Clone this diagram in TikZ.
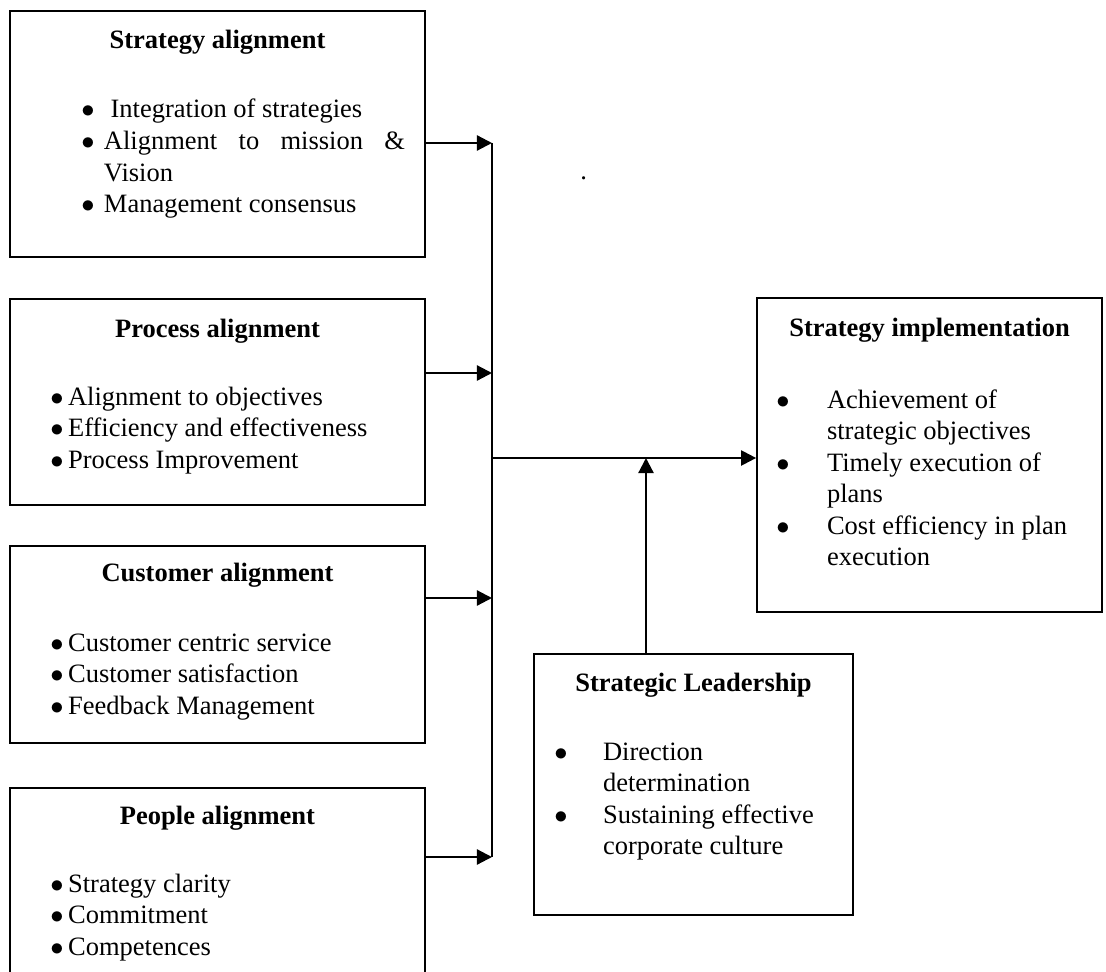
\documentclass[tikz,border=0pt]{standalone}
\usepackage{fontspec}
\setmainfont{Liberation Serif}
\usetikzlibrary{arrows.meta}

\newcommand{\blist}[2]{\begin{tabular}[t]{@{}l@{\hspace{#1}}l@{}}#2\end{tabular}}
\newcommand{\bul}{$\bullet$}

\begin{document}
\begin{tikzpicture}[
        x=0.4528pt, y=-0.4528pt,
        box/.style={rectangle, draw, line width=0.8pt, inner sep=0pt},
        title/.style={font=\fontsize{12}{14.3}\selectfont\bfseries, anchor=base, inner sep=0pt},
        items/.style={font=\fontsize{12}{14.3}\selectfont, anchor=base west, inner sep=0pt},
        arrow/.style={-{Triangle[length=6.8pt,width=6.8pt]}, line width=1pt}
    ]
        \useasboundingbox (0,0) rectangle (1106,972);

        % Alignment boxes
        \node[box, minimum width=187.9pt, minimum height=111.4pt] (sa) at (217.5,134) {};
        \node[box, minimum width=187.9pt, minimum height=93.3pt] (pa) at (217.5,402) {};
        \node[box, minimum width=187.9pt, minimum height=89.2pt] (ca) at (217.5,644.5) {};
        \node[box, minimum width=187.9pt, minimum height=96pt] (pe) at (217.5,894) {};

        % Outcome and leadership boxes
        \node[box, minimum width=156.2pt, minimum height=142.2pt] (si) at (929.5,455) {};
        \node[box, minimum width=144.4pt, minimum height=118.2pt] (sl) at (693.5,784.5) {};

        % Titles
        \node[title] (saT) at (217.5,49) {Strategy alignment};
        \node[title] (paT) at (217.5,337) {Process alignment};
        \node[title] (caT) at (217.5,581) {Customer alignment};
        \node[title] (peT) at (217.5,824) {People alignment};
        \node[title] (siT) at (929.5,336) {Strategy implementation};
        \node[title] (slT) at (693.5,691) {Strategic Leadership};

        % Bullet lists
        \node[items] (saL) at (81,118) {\blist{4.2pt}{\bul & \ Integration of strategies\\
            \bul & \makebox[136.3pt][s]{Alignment to mission \&}\\
                 & Vision\\
            \bul & Management consensus}};
        \node[items] (paL) at (50,405) {\blist{2pt}{\bul & Alignment to objectives\\
            \bul & Efficiency and effectiveness\\
            \bul & Process Improvement}};
        \node[items] (caL) at (50,651) {\blist{2pt}{\bul & Customer centric service\\
            \bul & Customer satisfaction\\
            \bul & Feedback Management}};
        \node[items] (peL) at (50,892) {\blist{2pt}{\bul & Strategy clarity\\
            \bul & Commitment\\
            \bul & Competences}};
        \node[items] (siL) at (776,408) {\blist{16.9pt}{\bul & Achievement of\\
                 & strategic objectives\\
            \bul & Timely execution of\\
                 & plans\\
            \bul & Cost efficiency in plan\\
                 & execution}};
        \node[items] (slL) at (554,760) {\blist{16pt}{\bul & Direction\\
                 & determination\\
            \bul & Sustaining effective\\
                 & corporate culture}};
        \node[items] (dot) at (580,180) {.};

        % Bus points
        \coordinate (b1) at (492,143);
        \coordinate (b2) at (492,373);
        \coordinate (b3) at (492,598);
        \coordinate (b4) at (492,857);
        \coordinate (m) at (492,458);
        \coordinate (j) at (646,458);

        % Arrows
        \draw[line width=1pt] (b1) -- (b4);
        \draw[arrow] (sa.east |- b1) -- (b1);
        \draw[arrow] (pa.east |- b2) -- (b2);
        \draw[arrow] (ca.east |- b3) -- (b3);
        \draw[arrow] (pe.east |- b4) -- (b4);
        \draw[arrow] (m) -- (m -| si.west);
        \draw[arrow] (sl.north -| j) -- (j);
    \end{tikzpicture}
\end{document}
